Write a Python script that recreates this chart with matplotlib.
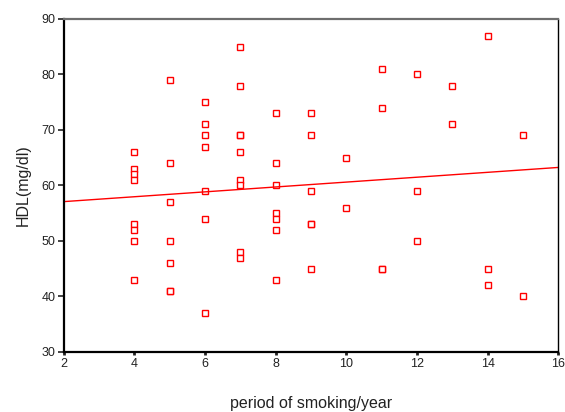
import matplotlib

matplotlib.use("Agg")
import matplotlib.pyplot as plt
import numpy as np


# period of smoking (years) and HDL (mg/dl)
years = [4] * 8 + [5] * 7 + [6] * 7 + [7] * 9 + [8] * 7 + [9] * 6 + [10] * 2 + [11] * 4 + [12] * 3 + [13] * 2 + [14] * 3 + [15] * 2
hdl = [
    66, 63, 62, 61, 53, 52, 50, 43,
    79, 64, 57, 50, 46, 41, 41,
    75, 71, 69, 67, 59, 54, 37,
    85, 78, 69, 69, 66, 61, 60, 48, 47,
    73, 64, 60, 55, 54, 52, 43,
    73, 69, 59, 53, 53, 45,
    65, 56,
    81, 74, 45, 45,
    80, 59, 50,
    78, 71,
    87, 45, 42,
    69, 40,
]

x_ticks = [2, 4, 6, 8, 10, 12, 14, 16]
y_ticks = [30, 40, 50, 60, 70, 80, 90]

plt.rcParams["font.family"] = ["Liberation Sans", "DejaVu Sans"]

x = np.asarray(years, dtype=float)
y = np.asarray(hdl, dtype=float)
slope, intercept = np.polyfit(x, y, 1)

fig = plt.figure(figsize=(5.65, 4.12), dpi=100)
ax = fig.add_axes([0.113, 0.146, 0.875, 0.808])

ax.plot(x, y, linestyle="none", marker="s", markersize=4.3,
        markerfacecolor="white", markeredgecolor="#ff0000", markeredgewidth=1.0)
xs = np.array([x_ticks[0], x_ticks[-1]], dtype=float)
ax.plot(xs, intercept + slope * xs, color="#ff0000", linewidth=1.0)

ax.set_xlim(x_ticks[0], x_ticks[-1])
ax.set_ylim(y_ticks[0], y_ticks[-1])
ax.set_xticks(x_ticks)
ax.set_yticks(y_ticks)

for side in ("left", "bottom"):
    ax.spines[side].set_linewidth(1.6)
    ax.spines[side].set_color("black")
ax.spines["top"].set_linewidth(1.6)
ax.spines["top"].set_color("#6e6e6e")
ax.spines["right"].set_linewidth(1.0)
ax.spines["right"].set_color("black")

ax.tick_params(axis="y", direction="out", length=4, width=1.2, labelsize=9, pad=2, colors="#222222")
ax.tick_params(axis="x", direction="out", length=2.5, width=2.0, labelsize=9, pad=2, colors="#222222")

ax.set_xlabel("period of smoking/year", fontsize=11.5, labelpad=19, color="#222222")
ax.set_ylabel("HDL(mg/dl)", fontsize=11.5, labelpad=8, color="#222222")

fig.savefig("out.png", dpi=100)
plt.close(fig)
